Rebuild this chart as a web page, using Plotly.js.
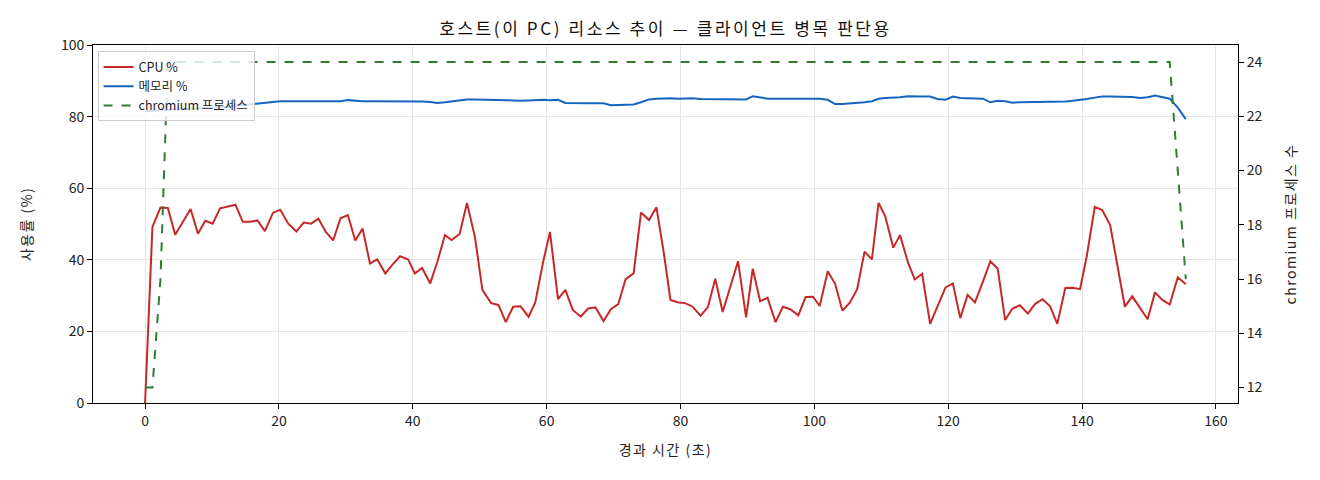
<!DOCTYPE html>
<html>
<head>
<meta charset="utf-8">
<script src="https://cdn.plot.ly/plotly-3.0.1.min.js"></script>
<style>
  html, body { margin: 0; padding: 0; background: #fff; }
  #chart { width: 1320px; height: 480px; }
  /* the reference font runs wider than Noto CJK */
  #chart .gtitle { letter-spacing: 2.6px; }
  #chart .xtitle, #chart .ytitle, #chart .y2title { letter-spacing: 1.5px; }
</style>
</head>
<body>
<div id="chart"></div>
<script>
// elapsed seconds for each sample
const times = [
  0.0, 1.1, 2.3, 3.4, 4.5, 5.6, 6.8, 7.9, 9.0, 10.1,
  11.2, 12.4, 13.5, 14.6, 15.7, 16.8, 17.9, 19.1, 20.2, 21.4,
  22.6, 23.7, 24.8, 25.9, 27.0, 28.1, 29.2, 30.3, 31.4, 32.5,
  33.6, 34.7, 35.9, 37.0, 38.1, 39.3, 40.3, 41.4, 42.6, 43.7,
  44.8, 45.8, 47.0, 48.1, 49.3, 50.4, 51.7, 52.8, 53.9, 55.0,
  56.1, 57.3, 58.3, 59.5, 60.5, 61.7, 62.8, 63.9, 65.1, 66.2,
  67.3, 68.5, 69.6, 70.7, 71.8, 73.0, 74.1, 75.3, 76.4, 77.5,
  78.5, 79.7, 80.7, 81.8, 83.0, 84.1, 85.2, 86.3, 87.4, 88.6,
  89.8, 90.8, 91.9, 93.0, 94.2, 95.3, 96.4, 97.6, 98.7, 99.8,
  100.8, 102.0, 103.1, 104.2, 105.3, 106.4, 107.5, 108.6, 109.6, 110.6,
  111.8, 112.8, 114.0, 115.0, 116.1, 117.3, 118.4, 119.6, 120.7, 121.8,
  122.9, 124.0, 125.2, 126.3, 127.4, 128.5, 129.6, 130.7, 131.9, 133.0,
  134.1, 135.2, 136.3, 137.5, 138.6, 139.7, 140.7, 141.9, 143.0, 144.2,
  145.3, 146.4, 147.5, 148.7, 149.8, 150.9, 152.0, 153.1, 154.3, 155.5
];

const cpu = [
  0, 49.2, 54.6, 54.5, 47.0, 50.6, 54.2, 47.3, 50.9, 50.1,
  54.4, 54.9, 55.4, 50.6, 50.6, 51.0, 48.0, 53.1, 54.0, 50.1,
  47.9, 50.4, 50.1, 51.5, 47.8, 45.4, 51.6, 52.5, 45.4, 48.7,
  39.0, 40.1, 36.2, 38.7, 41.0, 40.1, 36.2, 37.7, 33.4, 39.6,
  46.9, 45.5, 47.2, 55.9, 46.2, 31.6, 27.9, 27.4, 22.6, 26.9,
  27.0, 24.1, 28.1, 39.6, 47.8, 29.0, 31.6, 26.0, 24.1, 26.4,
  26.7, 22.9, 26.2, 27.6, 34.6, 36.2, 53.2, 51.1, 54.7, 42.0,
  28.8, 28.1, 27.9, 26.9, 24.4, 26.8, 34.7, 25.4, 32.1, 39.6,
  23.9, 37.5, 28.4, 29.4, 22.6, 26.9, 26.2, 24.5, 29.6, 29.7,
  27.1, 36.8, 33.3, 25.8, 28.0, 31.8, 42.3, 40.1, 55.9, 52.1,
  43.4, 46.9, 39.2, 34.5, 36.1, 22.1, 27.0, 32.3, 33.4, 23.7,
  30.2, 28.1, 34.0, 39.6, 37.5, 23.2, 26.4, 27.3, 25.0, 27.7,
  29.0, 27.1, 22.1, 32.1, 32.2, 31.8, 41.0, 54.8, 53.9, 49.7,
  38.2, 26.9, 29.8, 26.5, 23.4, 30.9, 28.8, 27.5, 35.1, 33.2
];

const mem = [
  81.5, 81.6, 81.8, 81.9, 82.0, 82.1, 82.2, 82.2, 82.3, 82.5,
  82.6, 82.8, 83.0, 83.2, 83.4, 83.6, 83.8, 84.0, 84.3, 84.3,
  84.2, 84.3, 84.3, 84.3, 84.2, 84.2, 84.3, 84.6, 84.4, 84.3,
  84.3, 84.3, 84.2, 84.2, 84.3, 84.3, 84.4, 84.2, 84.1, 83.8,
  84.0, 84.2, 84.5, 84.8, 84.8, 84.8, 84.8, 84.7, 84.6, 84.5,
  84.4, 84.5, 84.6, 84.7, 84.6, 84.7, 83.8, 83.7, 83.7, 83.7,
  83.7, 83.7, 83.2, 83.2, 83.3, 83.4, 84.0, 84.8, 85.0, 85.1,
  85.1, 85.0, 85.1, 85.1, 84.9, 84.9, 84.9, 84.8, 84.8, 84.8,
  84.8, 85.7, 85.3, 85.0, 85.0, 85.0, 85.0, 85.0, 85.0, 85.0,
  85.0, 84.7, 83.5, 83.5, 83.6, 83.7, 84.0, 84.3, 85.0, 85.2,
  85.3, 85.4, 85.7, 85.6, 85.6, 85.6, 84.9, 84.7, 85.6, 85.2,
  85.1, 85.0, 85.0, 84.0, 84.4, 84.3, 83.9, 84.0, 84.0, 84.0,
  84.0, 84.0, 84.0, 84.2, 84.4, 84.6, 84.9, 85.3, 85.6, 85.6,
  85.6, 85.7, 85.5, 85.2, 85.4, 85.9, 85.4, 85.0, 82.5, 79.3
];

const procs = [
  12, 12, 16, 24, 24, 24, 24, 24, 24, 24,
  24, 24, 24, 24, 24, 24, 24, 24, 24, 24,
  24, 24, 24, 24, 24, 24, 24, 24, 24, 24,
  24, 24, 24, 24, 24, 24, 24, 24, 24, 24,
  24, 24, 24, 24, 24, 24, 24, 24, 24, 24,
  24, 24, 24, 24, 24, 24, 24, 24, 24, 24,
  24, 24, 24, 24, 24, 24, 24, 24, 24, 24,
  24, 24, 24, 24, 24, 24, 24, 24, 24, 24,
  24, 24, 24, 24, 24, 24, 24, 24, 24, 24,
  24, 24, 24, 24, 24, 24, 24, 24, 24, 24,
  24, 24, 24, 24, 24, 24, 24, 24, 24, 24,
  24, 24, 24, 24, 24, 24, 24, 24, 24, 24,
  24, 24, 24, 24, 24, 24, 24, 24, 24, 24,
  24, 24, 24, 24, 24, 24, 24, 24, 20, 16
];

const FONT = '"Noto Sans CJK KR", "Noto Sans", sans-serif';

const traces = [
  {
    x: times, y: cpu, name: "CPU %", type: "scatter", mode: "lines",
    line: { color: "#c62828", width: 2 },
  },
  {
    x: times, y: mem, name: "메모리 %", type: "scatter", mode: "lines",
    line: { color: "#1565c0", width: 2 },
  },
  {
    x: times, y: procs, name: "chromium 프로세스", type: "scatter", mode: "lines",
    yaxis: "y2",
    line: { color: "#2e7d32", width: 2, dash: "dash" },
  },
];

const layout = {
  width: 1320,
  height: 480,
  margin: { l: 93, r: 82, t: 45, b: 77 },
  paper_bgcolor: "#fff",
  plot_bgcolor: "#fff",
  font: { family: FONT, size: 13, color: "#222" },
  title: {
    text: "호스트(이 PC) 리소스 추이 — 클라이언트 병목 판단용",
    font: { family: FONT, size: 17, color: "#111" },
    x: 0.5, xref: "paper", y: 0.94, yanchor: "middle",
  },
  showlegend: true,
  legend: {
    x: 0.004, y: 0.982, xanchor: "left", yanchor: "top",
    bgcolor: "rgba(255,255,255,0.8)",
    bordercolor: "#cccccc", borderwidth: 1,
    font: { family: FONT, size: 12.5, color: "#222" },
    itemwidth: 30,
    tracegroupgap: 0,
  },
  xaxis: {
    range: [-7.78, 163.3],
    tickvals: [0, 20, 40, 60, 80, 100, 120, 140, 160],
    ticks: "outside", ticklen: 5, tickcolor: "#000",
    tickfont: { size: 14 },
    showline: true, linecolor: "#000", linewidth: 1, mirror: true,
    showgrid: true, gridcolor: "#e6e6e6", gridwidth: 1,
    zeroline: false,
    title: { text: "경과 시간 (초)", font: { family: FONT, size: 14 }, standoff: 16 },
  },
  yaxis: {
    range: [0, 100],
    tickvals: [0, 20, 40, 60, 80, 100],
    ticks: "outside", ticklen: 5, tickcolor: "#000",
    tickfont: { size: 14 },
    showline: true, linecolor: "#000", linewidth: 1,
    showgrid: true, gridcolor: "#e6e6e6", gridwidth: 1,
    zeroline: false,
    title: { text: "사용률 (%)", font: { family: FONT, size: 14 }, standoff: 24 },
  },
  yaxis2: {
    overlaying: "y", side: "right",
    range: [11.43, 24.63],
    tickvals: [12, 14, 16, 18, 20, 22, 24],
    ticks: "outside", ticklen: 5, tickcolor: "#000",
    tickfont: { size: 14 },
    showline: true, linecolor: "#000", linewidth: 1,
    showgrid: false, zeroline: false,
    title: { text: "chromium 프로세스 수", font: { family: FONT, size: 14 }, standoff: 24 },
  },
};

Plotly.newPlot("chart", traces, layout, { displayModeBar: false, staticPlot: true });
</script>
</body>
</html>
